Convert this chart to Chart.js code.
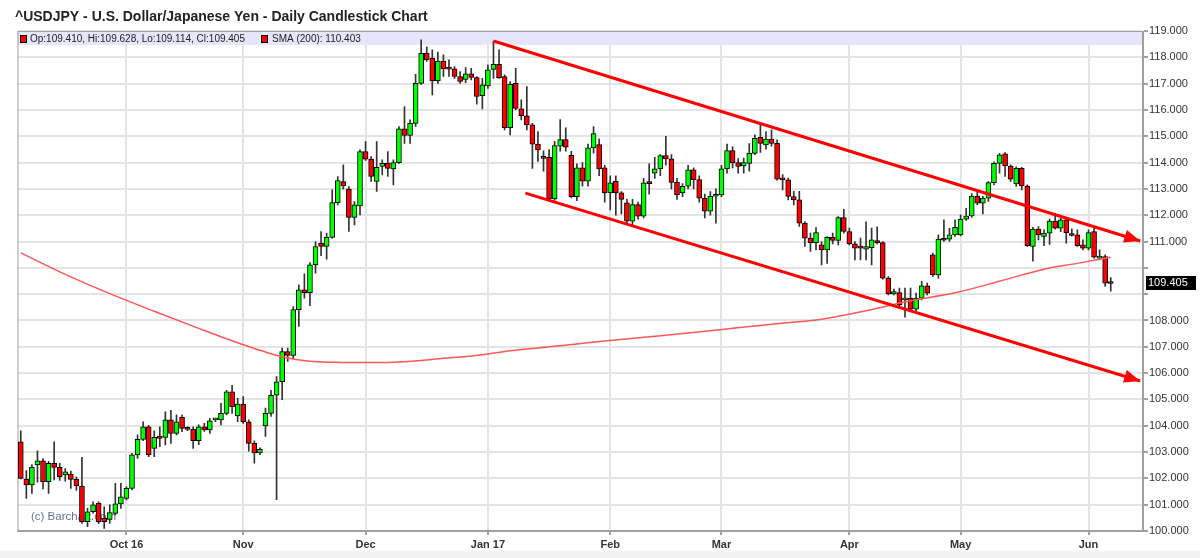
<!DOCTYPE html>
<html><head><meta charset="utf-8">
<script src="https://cdn.jsdelivr.net/npm/chart.js@4.4.1/dist/chart.umd.min.js"></script>
<style>html,body{margin:0;padding:0;background:#fff;}#wrap{width:1200px;height:558px;position:relative;background:linear-gradient(to bottom,#ffffff 0,#ffffff 549px,#f2f2f2 552px,#f2f2f2 558px);}</style>
</head><body><div id="wrap"><canvas id="c"></canvas></div>
<script>
// ---- Data (daily candles, index 0 = 6 Sep 2016 ... 196 = 7 Jun 2017) ----
const opens = [
103.39,101.97,101.75,102.51,102.67,101.87,102.57,102.42,102.13,102.16,
101.96,101.71,100.35,100.73,101.05,100.48,100.44,100.67,101.03,101.24,
101.62,102.89,103.48,103.96,103.14,103.61,103.56,104.22,103.71,104.32,
103.88,103.86,103.43,103.96,103.84,104.22,104.22,104.47,105.29,104.37,
104.82,104.15,103.33,102.97,103.99,104.47,105.16,105.67,106.82,106.67,
108.41,109.16,109.06,110.11,110.94,110.81,111.16,112.48,113.28,112.99,
111.92,112.35,114.42,114.13,113.28,113.85,113.97,113.76,114.00,115.28,
115.03,115.49,117.01,118.15,117.96,117.10,117.86,117.58,117.56,117.27,
117.16,117.37,117.23,116.54,116.91,117.54,117.73,117.27,115.33,117.01,
116.04,115.78,115.43,114.70,114.20,114.20,112.62,114.62,114.87,114.28,
112.70,113.80,113.29,114.56,114.68,113.80,112.85,113.29,112.85,112.47,
111.77,112.40,111.96,113.23,113.60,113.76,114.27,114.14,113.25,112.85,
113.10,113.72,113.35,112.65,112.15,112.72,112.77,113.76,114.46,114.00,
113.87,113.97,114.35,114.96,114.67,114.89,114.73,113.41,113.34,112.71,
112.58,111.70,111.13,110.96,110.87,110.68,111.16,111.04,111.91,111.38,
110.91,110.77,110.71,110.77,111.04,110.96,109.61,109.01,109.06,108.78,
108.85,108.43,108.85,109.32,110.49,109.73,111.09,111.09,111.25,111.25,
111.85,111.97,112.73,112.46,112.65,113.24,113.97,114.33,113.87,113.19,
113.78,113.11,110.81,111.47,111.19,111.32,111.78,111.51,111.82,111.25,
111.25,110.87,110.75,111.38,110.37,110.43,109.410];
const highs = [
103.81,102.30,102.52,103.05,102.75,102.65,103.39,102.57,102.37,102.28,
102.06,102.80,100.86,101.11,101.11,100.92,100.99,101.81,101.81,101.68,
102.95,103.65,104.15,104.02,103.81,103.96,104.53,104.59,104.41,104.41,
103.96,103.96,104.03,104.09,104.28,104.28,104.85,105.35,105.54,105.04,
105.11,104.22,103.43,103.16,104.67,105.35,105.87,106.95,106.95,108.53,
109.35,109.77,110.20,111.00,111.38,111.32,112.96,113.47,113.91,113.09,
112.52,114.48,114.80,114.23,114.80,114.10,114.42,114.10,115.37,116.13,
115.62,117.35,118.66,118.40,118.28,118.20,118.09,117.90,117.65,117.46,
117.61,117.58,117.27,117.20,117.71,118.61,118.28,117.33,117.08,117.58,
116.38,116.89,115.49,115.18,114.45,114.49,114.81,115.63,115.32,114.43,
113.95,114.00,114.70,115.37,114.90,113.90,113.50,113.50,112.90,112.60,
112.60,112.50,113.40,113.95,114.20,114.30,115.00,114.30,113.40,113.20,
113.90,113.80,113.50,112.80,112.90,113.00,113.90,114.70,114.60,114.15,
114.17,114.72,115.05,115.49,115.18,115.24,114.86,113.54,113.41,112.91,
112.91,111.76,111.32,111.53,111.00,111.19,111.32,111.95,112.22,111.51,
111.00,111.13,111.75,111.51,111.56,111.00,109.67,109.19,109.23,109.23,
109.23,109.04,109.49,109.42,110.56,111.25,111.82,111.50,111.82,112.01,
112.26,112.82,112.96,112.72,113.28,114.03,114.35,114.38,113.91,113.84,
113.82,113.15,111.54,111.57,111.44,111.85,112.06,111.89,111.86,111.48,
111.44,111.06,111.44,111.59,110.68,110.49,109.628];
const lows = [
101.98,101.24,101.43,101.86,101.60,101.43,101.94,101.92,101.89,101.62,
101.54,100.29,100.16,100.68,100.28,100.10,100.29,100.61,100.86,101.18,
101.56,102.76,103.43,102.82,102.82,103.20,103.27,103.33,103.65,103.77,
103.81,103.14,103.28,103.78,103.71,104.15,104.03,104.41,104.47,104.15,
104.09,103.03,102.58,102.90,103.59,104.35,101.19,104.99,106.44,106.55,
107.77,108.85,108.56,109.80,110.46,110.33,111.13,112.39,112.99,111.38,
111.63,112.01,114.08,113.28,112.90,113.53,113.47,113.15,113.97,114.73,
114.73,115.37,116.97,117.84,116.57,117.01,117.27,117.27,117.20,117.01,
117.04,117.14,116.22,116.04,116.82,117.20,117.20,115.24,115.05,116.00,
115.62,115.24,113.78,114.04,113.67,112.59,112.56,114.43,114.43,112.66,
112.55,113.10,113.10,114.36,113.50,112.50,112.20,112.00,112.05,111.65,
111.60,111.85,111.90,112.80,113.40,113.50,113.90,113.00,112.60,112.70,
113.00,113.00,112.50,111.90,112.00,111.70,112.70,113.60,113.80,113.60,
113.60,113.67,114.30,114.39,114.51,114.62,113.33,112.96,112.58,112.39,
111.57,110.81,110.62,110.68,110.11,110.17,110.91,110.87,111.32,110.87,
110.30,110.30,110.30,110.11,110.91,109.57,108.97,108.97,108.53,108.13,
108.34,108.37,108.78,108.97,109.67,109.61,111.00,111.00,111.19,111.21,
111.80,111.92,112.40,112.05,112.52,113.15,113.60,113.47,113.28,113.09,
112.96,110.81,110.25,111.06,110.84,110.89,111.47,111.37,110.94,111.20,
110.81,110.68,110.68,110.37,110.30,109.29,109.114];
const closes = [
102.00,101.75,102.42,102.67,101.87,102.57,102.42,102.06,102.25,101.96,
101.71,100.35,100.73,100.99,100.35,100.35,100.70,101.03,101.30,101.62,
102.89,103.48,103.96,102.89,103.56,103.52,104.22,103.71,104.15,103.90,
103.86,103.43,103.96,103.84,104.19,104.23,104.47,105.29,104.72,104.82,
104.15,103.33,102.97,103.10,104.47,105.16,105.67,106.82,106.67,108.41,
109.16,109.06,110.11,110.81,110.81,111.16,112.48,113.32,113.11,111.92,
112.39,114.42,114.13,113.47,113.82,113.97,113.78,114.00,115.28,115.03,
115.49,117.01,118.15,117.90,117.10,117.86,117.56,117.55,117.27,117.08,
117.37,117.24,116.51,116.95,117.52,117.73,117.23,115.33,116.97,116.06,
115.78,115.43,114.70,114.48,114.16,112.62,114.65,114.87,114.59,112.70,
113.80,113.29,114.56,115.10,113.76,112.85,113.23,112.85,112.60,111.77,
112.40,111.96,113.23,113.20,113.76,114.27,114.14,113.25,112.78,113.10,
113.72,113.35,112.65,112.15,112.72,112.77,113.76,114.46,114.00,113.85,
114.00,114.35,114.92,114.73,114.89,114.73,113.37,113.34,112.71,112.58,
111.70,111.13,110.96,111.34,110.68,111.16,111.04,111.91,111.38,110.91,
110.75,110.75,110.81,111.06,110.96,109.61,109.01,109.10,108.59,108.85,
108.43,108.85,109.32,109.04,109.73,111.09,111.05,111.25,111.54,111.85,
111.97,112.73,112.46,112.65,113.24,113.97,114.29,113.87,113.37,113.78,
113.11,110.84,111.47,111.25,111.32,111.78,111.51,111.82,111.34,111.23,
110.84,110.75,111.34,110.41,110.43,109.42,109.405];

// SMA(200) at selected candle indices
const smaIdx    = [0, 8, 16, 24, 32, 36, 40, 44, 48, 52, 56, 60, 64, 68, 72, 76, 80, 84, 88, 96, 104, 112, 120, 128, 136, 144, 152, 160, 168, 176, 184, 190, 196];
const smaValues = [110.57,109.75,109.02,108.35,107.70,107.38,107.08,106.80,106.57,106.45,106.41,106.40,106.40,106.42,106.48,106.56,106.63,106.73,106.85,107.02,107.20,107.36,107.52,107.70,107.88,108.05,108.37,108.75,109.05,109.49,109.95,110.17,110.40];

// Hand-drawn trend channel (index, price)
const upperTrendIdx = [85.0, 201.3];
const upperTrendVal = [118.62, 111.02];
const lowerTrendIdx = [90.75, 201.3];
const lowerTrendVal = [112.84, 105.70];

// X-axis month ticks
const monthTickIdx    = [19, 40, 62, 84, 106, 126, 149, 169, 192];
const monthTickLabels = ['Oct 16', 'Nov', 'Dec', 'Jan 17', 'Feb', 'Mar', 'Apr', 'May', 'Jun'];

const titleText  = '^USDJPY - U.S. Dollar/Japanese Yen - Daily Candlestick Chart';
const smaLabel   = 'SMA (200): 110.403';
const watermark  = '(c) Barchart.com';

// ---- Build ----
const FONT = "'Liberation Sans', Arial, Helvetica, sans-serif";
Chart.defaults.font.family = FONT;

const last = opens.length - 1;
const ohlcLabel = 'Op:' + opens[last].toFixed(3) + ', Hi:' + highs[last].toFixed(3) + ', Lo:' + lows[last].toFixed(3) + ', Cl:' + closes[last].toFixed(3);
const bodyData = opens.map((o, i) => ({x: i, y: [Math.min(o, closes[i]), Math.max(o, closes[i])]}));
const wickData = opens.map((o, i) => ({x: i, y: [lows[i], highs[i]]}));
const bodyColors = opens.map((o, i) => closes[i] >= o ? '#00ff00' : '#ff0000');
const tickLabelMap = {};
monthTickIdx.forEach((v, i) => tickLabelMap[v] = monthTickLabels[i]);

const decorPlugin = {
  id: 'decor',
  beforeDatasetsDraw(chart) {
    const {ctx, chartArea: a} = chart;
    ctx.save();
    // legend band
    ctx.fillStyle = '#e6e6fa';
    ctx.fillRect(a.left, a.top, a.right - a.left, 14);
    // legend swatches + text
    ctx.fillStyle = '#ff0000'; ctx.strokeStyle = '#000'; ctx.lineWidth = 1;
    ctx.fillRect(20.5, 35.5, 6, 7); ctx.strokeRect(20.5, 35.5, 6, 7);
    ctx.fillRect(261.5, 35.5, 6, 7); ctx.strokeRect(261.5, 35.5, 6, 7);
    ctx.fillStyle = '#222';
    ctx.font = '10px ' + FONT;
    ctx.textBaseline = 'middle';
    ctx.fillText(ohlcLabel, 30, 39.5);
    ctx.fillText(smaLabel, 272, 39.5);
    // watermark
    ctx.fillStyle = '#5f7395';
    ctx.font = '11.5px ' + FONT;
    ctx.fillText(watermark, 31, 517);
    // plot border
    ctx.strokeStyle = '#a0a0a0';
    ctx.lineWidth = 1;
    ctx.strokeRect(a.left + 0.5, a.top + 0.5, a.right - a.left - 1, a.bottom - a.top - 1);
    ctx.restore();
  },
  afterDatasetsDraw(chart) {
    const {ctx} = chart;
    chart.data.datasets.forEach((ds, i) => {
      if (!ds.arrow) return;
      const pts = chart.getDatasetMeta(i).data;
      const p1 = pts[pts.length - 2], p2 = pts[pts.length - 1];
      const ang = Math.atan2(p2.y - p1.y, p2.x - p1.x);
      const L = 16, W = 6.5;
      ctx.save();
      ctx.fillStyle = ds.borderColor;
      ctx.beginPath();
      ctx.moveTo(p2.x, p2.y);
      ctx.lineTo(p2.x - L * Math.cos(ang) + W * Math.sin(ang), p2.y - L * Math.sin(ang) - W * Math.cos(ang));
      ctx.lineTo(p2.x - L * Math.cos(ang) - W * Math.sin(ang), p2.y - L * Math.sin(ang) + W * Math.cos(ang));
      ctx.closePath();
      ctx.fill();
      ctx.restore();
    });
  },
  afterDraw(chart) {
    const {ctx} = chart;
    const y = chart.scales.y.getPixelForValue(closes[last]);
    const x0 = chart.chartArea.right + 3;
    ctx.save();
    ctx.fillStyle = '#000';
    ctx.fillRect(x0, Math.round(y) - 7, 50, 14);
    ctx.fillStyle = '#fff';
    ctx.font = '11px ' + FONT;
    ctx.textBaseline = 'middle';
    ctx.fillText(closes[last].toFixed(3), x0 + 2, Math.round(y));
    ctx.restore();
  }
};

new Chart(document.getElementById('c'), {
  type: 'bar',
  data: {
    datasets: [
      {type: 'line', label: 'upper', data: upperTrendIdx.map((x, i) => ({x, y: upperTrendVal[i]})), borderColor: '#ff0000', borderWidth: 3, pointRadius: 0, order: 0, arrow: true, clip: false},
      {type: 'line', label: 'lower', data: lowerTrendIdx.map((x, i) => ({x, y: lowerTrendVal[i]})), borderColor: '#ff0000', borderWidth: 3, pointRadius: 0, order: 0, arrow: true, clip: false},
      {type: 'line', label: 'SMA (200)', data: smaIdx.map((x, i) => ({x, y: smaValues[i]})), borderColor: '#ff5757', borderWidth: 1.5, pointRadius: 0, cubicInterpolationMode: 'monotone', order: 1},
      {label: 'body', data: bodyData, backgroundColor: bodyColors, borderColor: '#000', borderWidth: 1, borderSkipped: false, barThickness: 5, minBarLength: 2, grouped: false, order: 2},
      {label: 'wick', data: wickData, backgroundColor: '#333', borderWidth: 0, barThickness: 1, grouped: false, order: 3}
    ]
  },
  options: {
    responsive: true,
    maintainAspectRatio: false,
    animation: false,
    layout: {padding: {left: 15, right: 0, top: 0, bottom: 0}},
    plugins: {
      legend: {display: false},
      tooltip: {enabled: false},
      title: {display: true, text: titleText, align: 'start', color: '#222', font: {size: 14, weight: 'bold'}, padding: {top: 9, bottom: 5.2}}
    },
    scales: {
      x: {
        type: 'linear', min: -0.59, max: 201.8, offset: false,
        grid: {color: '#e4e4e4', lineWidth: 2, tickColor: '#a0a0a0', tickLength: 4, offset: false},
        border: {color: '#a0a0a0'},
        ticks: {autoSkip: false, maxRotation: 0, color: '#333', font: {size: 11, weight: 'bold'}, padding: 3,
                callback: (v) => tickLabelMap[v] !== undefined ? tickLabelMap[v] : ''},
        afterBuildTicks: (s) => { s.ticks = monthTickIdx.map(v => ({value: v})); },
        afterFit: (s) => { s.height = 27; }
      },
      y: {
        type: 'linear', position: 'right', min: 100, max: 119, beginAtZero: false,
        grid: {color: '#e4e4e4', lineWidth: 2, tickColor: '#a0a0a0', tickLength: 5},
        border: {color: '#a0a0a0'},
        ticks: {stepSize: 1, color: '#333', font: {size: 11}, padding: 1,
                callback: (v) => Math.abs(v - closes[last]) < 0.7 ? '' : Number(v).toFixed(3)},
        afterFit: (s) => { s.width = 57; }
      },
      yL: {
        type: 'linear', position: 'left', display: true,
        grid: {display: false, drawTicks: false}, border: {display: false}, ticks: {display: false},
        afterFit: (s) => { s.width = 2.5; }
      }
    }
  },
  plugins: [decorPlugin]
});
</script>
</body></html>
